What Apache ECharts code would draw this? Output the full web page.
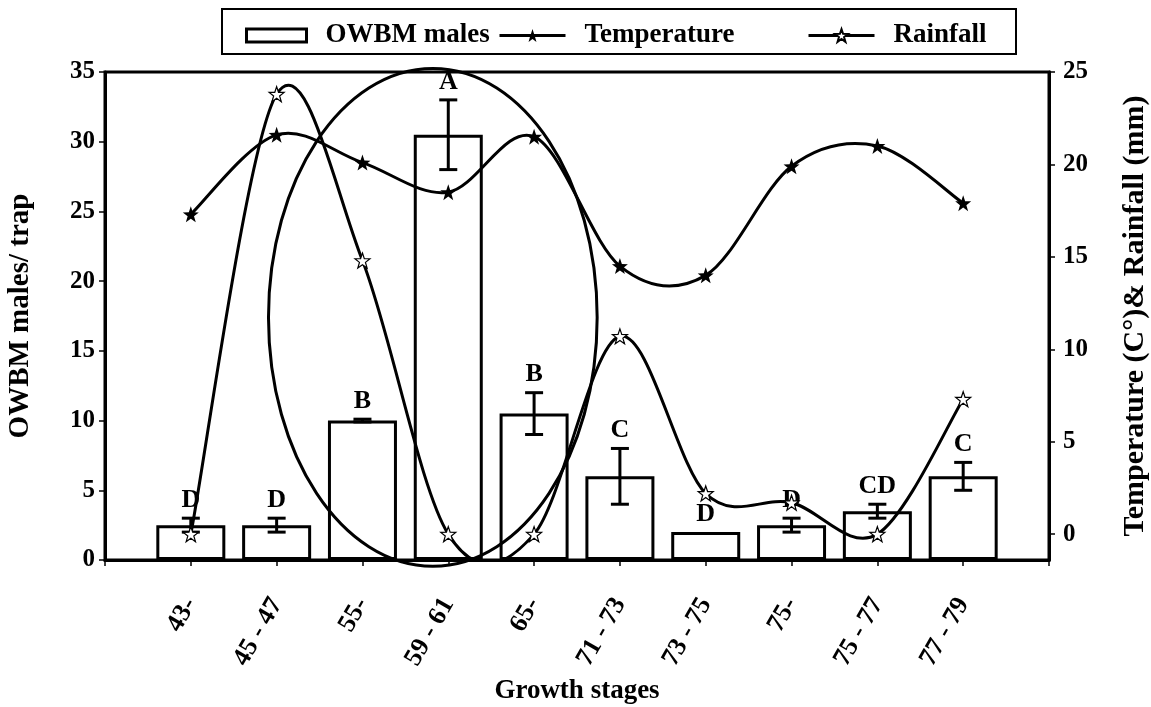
<!DOCTYPE html>
<html>
<head>
<meta charset="utf-8">
<script src="https://cdn.jsdelivr.net/npm/echarts@6/dist/echarts.min.js"></script>
<style>html,body{margin:0;padding:0;background:#fff}#c{width:1151px;height:707px}</style>
</head>
<body>
<div id="c"></div>
<script>
// ---- data ----
const stages = ['43-', '45 - 47', '55-', '59 - 61', '65-', '71 - 73', '73 - 75', '75-', '75 - 77', '77 - 79'];
const males = [2.5, 2.5, 10, 30.5, 10.5, 6, 2, 2.5, 3.5, 6];
const malesErr = [0.5, 0.5, 0.1, 2.5, 1.5, 2, 0, 0.5, 0.5, 1];
const letters = ['D', 'D', 'B', 'A', 'B', 'C', 'D', 'D', 'CD', 'C'];
const temperature = [17.3, 21.6, 20.1, 18.5, 21.5, 14.5, 14.0, 19.9, 21.0, 17.9];
const rainfall = [0, 23.8, 14.8, 0, 0, 10.7, 2.2, 1.7, 0, 7.3];
const leftTicks = [0, 5, 10, 15, 20, 25, 30, 35];
const rightTicks = [0, 5, 10, 15, 20, 25];

const FONT = '"Liberation Serif", "Times New Roman", serif';
const star = 'path://M0,-10 L2.35,-3.24 L9.51,-3.09 L3.8,1.24 L5.88,8.09 L0,4 L-5.88,8.09 L-3.8,1.24 L-9.51,-3.09 L-2.35,-3.24 Z';

const chart = echarts.init(document.getElementById('c'), null, {renderer: 'canvas'});
const pos = stages.map((s, i) => i + 1);

const legendText = {fontFamily: FONT, fontWeight: 'bold', fontSize: 27, color: '#000', padding: [0, 0, 0, 14]};
const legendLine = {color: '#000', width: 3, opacity: 1};

// smooth (Catmull-Rom style) curve drawn segment by segment through the axis scales
function smoothRenderer(arr) {
  return function (params, api) {
    const i = params.dataIndex;
    if (i >= arr.length - 1) return null;
    const P = j => {
      const k = Math.max(0, Math.min(arr.length - 1, j));
      return api.coord([pos[k], arr[k]]);
    };
    const p0 = P(i - 1), p1 = P(i), p2 = P(i + 1), p3 = P(i + 2);
    return {
      type: 'bezierCurve',
      shape: {
        x1: p1[0], y1: p1[1], x2: p2[0], y2: p2[1],
        cpx1: p1[0] + (p2[0] - p0[0]) / 6, cpy1: p1[1] + (p2[1] - p0[1]) / 6,
        cpx2: p2[0] - (p3[0] - p1[0]) / 6, cpy2: p2[1] - (p3[1] - p1[1]) / 6
      },
      style: {fill: 'none', stroke: '#000', lineWidth: 3}
    };
  };
}

const option = {
  backgroundColor: '#fff',
  animation: false,
  grid: {left: 105, right: 102, top: 72, bottom: 147, show: true, borderColor: '#000', borderWidth: 3,
         backgroundColor: 'transparent', outerBoundsMode: 'none', containLabel: false},
  legend: [
    {data: ['OWBM males'], left: 240, top: 17, icon: 'rect', itemWidth: 60, itemHeight: 13, textStyle: legendText, selectedMode: false,
     itemStyle: {color: '#fff', borderColor: '#000', borderWidth: 3}},
    {data: ['Temperature'], left: 493, top: 17, itemWidth: 66, itemHeight: 16, textStyle: legendText, selectedMode: false, lineStyle: legendLine},
    {data: ['Rainfall'], left: 802, top: 17, itemWidth: 66, itemHeight: 16, textStyle: legendText, selectedMode: false, lineStyle: legendLine}
  ],
  xAxis: {
    type: 'value', min: 0, max: 11, interval: 1,
    name: 'Growth stages', nameLocation: 'middle', nameGap: 110,
    nameTextStyle: {fontFamily: FONT, fontWeight: 'bold', fontSize: 27, color: '#000'},
    axisLine: {show: true, lineStyle: {color: '#000', width: 3}},
    axisTick: {show: true, length: 6, lineStyle: {color: '#000', width: 1.5}},
    splitLine: {show: false},
    axisLabel: {
      rotate: 60, margin: 40,
      fontFamily: FONT, fontWeight: 'bold', fontSize: 26, color: '#000',
      formatter: v => stages[v - 1] || ''
    }
  },
  yAxis: [
    {
      type: 'value', min: 0, max: 35, interval: 5, position: 'left',
      name: 'OWBM males/ trap', nameLocation: 'middle', nameGap: 70, nameRotate: 90,
      nameTextStyle: {fontFamily: FONT, fontWeight: 'bold', fontSize: 29, color: '#000'},
      axisLine: {show: true, lineStyle: {color: '#000', width: 3}},
      axisTick: {show: true, length: 6, lineStyle: {color: '#000', width: 1.5}},
      splitLine: {show: false},
      axisLabel: {margin: 10, customValues: leftTicks, fontFamily: FONT, fontWeight: 'bold', fontSize: 25, color: '#000'}
    },
    {
      type: 'value', min: -1.4, max: 25, position: 'right',
      name: 'Temperature (C°)& Rainfall (mm)', nameLocation: 'middle', nameGap: 71, nameRotate: 90,
      nameTextStyle: {fontFamily: FONT, fontWeight: 'bold', fontSize: 30, color: '#000'},
      axisLine: {show: true, lineStyle: {color: '#000', width: 3}},
      axisTick: {show: true, length: 6, customValues: rightTicks, lineStyle: {color: '#000', width: 1.5}},
      splitLine: {show: false},
      axisLabel: {margin: 14, customValues: rightTicks, fontFamily: FONT, fontWeight: 'bold', fontSize: 25, color: '#000'}
    }
  ],
  series: [
    {
      name: 'OWBM males', type: 'bar', yAxisIndex: 0, barWidth: 69,
      data: males.map((v, i) => [pos[i], v]),
      itemStyle: {color: '#fff', borderColor: '#000', borderWidth: 3},
      z: 2
    },
    {
      name: 'errors', type: 'custom', yAxisIndex: 0, z: 3,
      data: males.map((v, i) => [pos[i], v, malesErr[i]]),
      renderItem: function (params, api) {
        const i = params.dataIndex;
        const x = api.value(0), v = api.value(1), e = api.value(2);
        const top = api.coord([x, v + e]);
        const bot = api.coord([x, v - e]);
        const hw = 9;
        const children = [];
        if (e > 0) {
          children.push({type: 'line', shape: {x1: top[0], y1: top[1], x2: bot[0], y2: bot[1]}, style: {stroke: '#000', lineWidth: 3}});
          children.push({type: 'line', shape: {x1: top[0] - hw, y1: top[1], x2: top[0] + hw, y2: top[1]}, style: {stroke: '#000', lineWidth: 3}});
          children.push({type: 'line', shape: {x1: bot[0] - hw, y1: bot[1], x2: bot[0] + hw, y2: bot[1]}, style: {stroke: '#000', lineWidth: 3}});
        }
        children.push({type: 'text', style: {text: letters[i], x: top[0], y: top[1] - 5, align: 'center', verticalAlign: 'bottom',
          fontFamily: FONT, fontWeight: 'bold', fontSize: 26, fill: '#000'}});
        return {type: 'group', children: children};
      }
    },
    {
      name: 'tempCurve', type: 'custom', yAxisIndex: 1, clip: true, z: 4, silent: true,
      data: temperature.map((v, i) => [pos[i], v]),
      renderItem: smoothRenderer(temperature)
    },
    {
      name: 'rainCurve', type: 'custom', yAxisIndex: 1, clip: true, z: 4, silent: true,
      data: rainfall.map((v, i) => [pos[i], v]),
      renderItem: smoothRenderer(rainfall)
    },
    {
      name: 'Temperature', type: 'line', yAxisIndex: 1,
      data: temperature.map((v, i) => [pos[i], v]),
      symbol: star, symbolSize: 16,
      lineStyle: {color: '#000', width: 3, opacity: 0},
      itemStyle: {color: '#000', borderColor: '#000', borderWidth: 0},
      z: 5
    },
    {
      name: 'Rainfall', type: 'line', yAxisIndex: 1,
      data: rainfall.map((v, i) => [pos[i], v]),
      symbol: star, symbolSize: 15,
      lineStyle: {color: '#000', width: 3, opacity: 0},
      itemStyle: {color: '#fff', borderColor: '#000', borderWidth: 1.2},
      z: 5
    }
  ]
};
chart.setOption(option);

// annotation ellipse around the 59 - 61 stage, placed in data units
const c = chart.convertToPixel({xAxisIndex: 0, yAxisIndex: 0}, [3.82, 17.4]);
const e1 = chart.convertToPixel({xAxisIndex: 0, yAxisIndex: 0}, [3.82 + 1.915, 17.4 + 17.85]);
chart.setOption({
  graphic: [
    {type: 'rect', shape: {x: 222, y: 9, width: 794, height: 45}, style: {fill: 'none', stroke: '#000', lineWidth: 2}, z: 10},
    {type: 'ellipse', shape: {cx: c[0], cy: c[1], rx: Math.abs(e1[0] - c[0]), ry: Math.abs(c[1] - e1[1])},
     style: {fill: 'none', stroke: '#000', lineWidth: 3}, z: 10}
  ]
});
</script>
</body>
</html>
